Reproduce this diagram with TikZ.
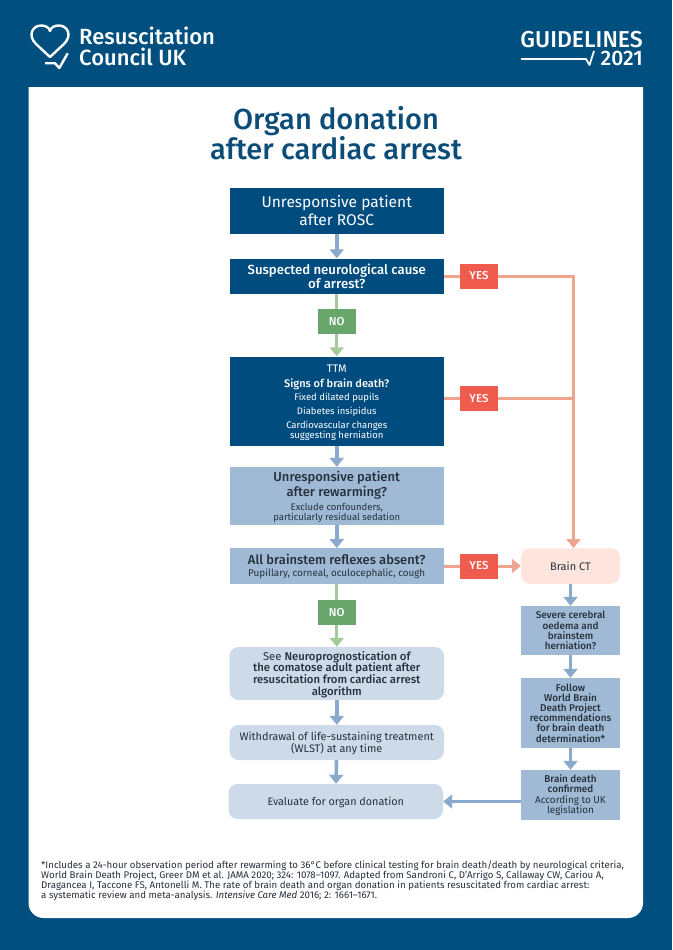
\documentclass[tikz,border=0pt]{standalone}
\usepackage{fontspec}
\setmainfont{Fira Sans}[BoldFont={Fira Sans Medium}]
\usetikzlibrary{arrows.meta}
\definecolor{navy}{HTML}{004F7F}
\definecolor{midblue}{HTML}{A0BAD5}
\definecolor{paleblue}{HTML}{CDDBE9}
\definecolor{arrowblue}{HTML}{8AA9CC}
\definecolor{darkfill}{HTML}{014C7E}
\definecolor{titleblue}{HTML}{0B4C78}
\definecolor{yesred}{HTML}{EF5B4C}
\definecolor{yesline}{HTML}{EFA48F}
\definecolor{ctpink}{HTML}{FDE4DC}
\definecolor{nogreen}{HTML}{69A66B}
\definecolor{noline}{HTML}{A6C99A}
\definecolor{bodytext}{HTML}{25303B}
\newcommand{\headline}[1]{{\fontsize{13}{14}\selectfont\bfseries #1}}
\newcommand{\ttmline}[1]{{\fontsize{11}{14}\selectfont #1}}
\tikzset{
 x=1pt, y=-1pt,
 box/.style={rectangle, minimum width=214.5pt, inner sep=0pt, align=center, font=\fontsize{9.5}{11.5}\selectfont},
 darkbox/.style={box, fill=darkfill, text=white},
 midbox/.style={box, fill=midblue, text=bodytext},
 palebox/.style={box, fill=paleblue, text=bodytext, rounded corners=9pt},
 sidebox/.style={box, fill=midblue, text=bodytext, minimum width=99pt, font=\fontsize{9.9}{10.2}\selectfont},
 yesbox/.style={rectangle, fill=yesred, text=white, minimum width=38pt, minimum height=25pt, inner sep=0pt, font=\fontsize{11.5}{12}\selectfont\bfseries},
 nobox/.style={rectangle, fill=nogreen, text=white, minimum width=38pt, minimum height=25pt, inner sep=0pt, font=\fontsize{11.5}{12}\selectfont\bfseries},
 tip/.style={-{Triangle[width=14pt,length=9pt]}},
 flow/.style={draw=arrowblue, line width=3.5pt, tip},
 yesflow/.style={draw=yesline, line width=3pt},
 noflow/.style={draw=noline, line width=3pt}
}
\begin{document}
\begin{tikzpicture}
\useasboundingbox (0,0) rectangle (672,950);
\fill[navy] (0,0) rectangle (672,950);
\fill[white] (28.5,87) -- (643,87) [rounded corners=15pt] -- (643,918) -- (28.5,918) [sharp corners] -- cycle;
% header
\draw[white, line width=2.4pt, line join=round, line cap=round] (50,57) -- (36,44) .. controls (27,35) and (33,25.5) .. (41,25.5) .. controls (45,25.5) and (49,27) .. (50,31) .. controls (51,27) and (55,25.5) .. (59,25.5) .. controls (67,25.5) and (73,35) .. (64,44) -- (50,57);
\draw[white, line width=2.4pt, line join=round] (45,63.3) -- (55,63.3) -- (59.3,68) -- (67.7,53.3);
\node[anchor=west, text=white, align=left, inner sep=0pt, font=\fontsize{22}{21}\selectfont\bfseries] (rcuk) at (79,46.5) {Resuscitation\\Council UK};
\node[anchor=east, text=white, align=right, inner sep=0pt, font=\fontsize{23}{18}\selectfont\bfseries] (guide) at (643,48.5) {GUIDELINES\\{\fontsize{21}{18}\selectfont 2021}};
\draw[white, line width=1.8pt, line join=round] (521,59) -- (586,59) -- (589.5,65) -- (594,51);
% title
\node[text=titleblue, align=center, inner sep=0pt, font=\fontsize{29}{28}\selectfont\bfseries] (title) at (336,133) {Organ donation\\after cardiac arrest};
% left column
\node[darkbox, minimum height=46pt, font=\fontsize{15.5}{18}\selectfont] (rosc) at (336.75,211) {Unresponsive patient\\after ROSC};
\node[darkbox, minimum height=35pt, font=\fontsize{13.2}{14}\selectfont\bfseries] (neuro) at (336.75,276) {Suspected neurological cause\\of arrest?};
\node[nobox] (no1) at (336.75,321.5) {NO};
\node[darkbox, minimum height=89pt, font=\fontsize{9.5}{10}\selectfont] (ttm) at (336.75,401) {\rule{0pt}{12pt}\ttmline{TTM}\\[5pt]\ttmline{\bfseries Signs of brain death?}\\[3pt]Fixed dilated pupils\\[4pt]Diabetes insipidus\\[4pt]Cardiovascular changes\\suggesting herniation};
\node[midbox, minimum height=58pt, font=\fontsize{9.5}{10}\selectfont] (rewarm) at (336.75,496) {\rule{0pt}{12pt}\headline{Unresponsive patient}\\\headline{after rewarming?}\\[4pt]Exclude confounders,\\particularly residual sedation};
\node[midbox, minimum height=35.5pt, font=\fontsize{9.9}{12}\selectfont] (reflex) at (336.75,566) {\headline{All brainstem reflexes absent?}\\Pupillary, corneal, oculocephalic, cough};
\node[nobox] (no2) at (336.75,612.5) {NO};
\node[palebox, minimum height=53pt, font=\fontsize{11.3}{11.6}\selectfont\bfseries] (neurop) at (336.75,673.5) {\rule{0pt}{11pt}{\mdseries See }Neuroprognostication of\\the comatose adult patient after\\resuscitation from cardiac arrest\\algorithm};
\node[palebox, minimum height=35pt, font=\fontsize{10.9}{12}\selectfont] (wlst) at (336.75,742.5) {\rule{0pt}{11pt}Withdrawal of life-sustaining treatment\\(WLST) at any time};
\node[palebox, minimum height=35pt, font=\fontsize{10.8}{12}\selectfont] (evaluate) at (335.75,801.5) {\rule{0pt}{11pt}Evaluate for organ donation};
% yes boxes
\node[yesbox] (yes1) at (479,276) {YES};
\node[yesbox] (yes2) at (479,398.5) {YES};
\node[yesbox] (yes3) at (479,566) {YES};
% right column
\node[palebox, fill=ctpink, minimum width=99pt, minimum height=35.5pt, font=\fontsize{11}{12}\selectfont] (ct) at (570.5,566) {Brain CT};
\node[sidebox, minimum height=49pt] (oedema) at (570.5,630.5) {\bfseries Severe cerebral\\\bfseries oedema and\\\bfseries brainstem\\\bfseries herniation?};
\node[sidebox, minimum height=70pt] (follow) at (570.5,713) {\bfseries Follow\\\bfseries World Brain\\\bfseries Death Project\\\bfseries recommendations\\\bfseries for brain death\\\bfseries determination*};
\node[sidebox, minimum height=50pt] (confirmed) at (570.5,795) {\bfseries Brain death\\\bfseries confirmed\\According to UK\\legislation};
\coordinate (j1) at (573.5,276);
\coordinate (j2) at (573.5,398.5);
% footnote
\node[anchor=north west, text=bodytext, align=left, inner sep=0pt, font=\fontsize{9.7}{10}\selectfont] (notes) at (41,860.5) {*Includes a 24-hour observation period after rewarming to 36°C before clinical testing for brain death/death by neurological criteria,\\World Brain Death Project, Greer DM et al. JAMA 2020; 324: 1078–1097. Adapted from Sandroni C, D’Arrigo S, Callaway CW, Cariou A,\\Dragancea I, Taccone FS, Antonelli M. The rate of brain death and organ donation in patients resuscitated from cardiac arrest:\\a systematic review and meta-analysis. \textit{Intensive Care Med} 2016; 2: 1661–1671.};
% connectors
\foreach \from/\to in {rosc/neuro,ttm/rewarm,rewarm/reflex,neurop/wlst,wlst/evaluate,ct/oedema,oedema/follow,follow/confirmed}
 \draw[flow] (\from) -- (\to);
\draw[flow] (confirmed.west |- evaluate) -- (evaluate);
\draw[noflow] (neuro) -- (no1);
\draw[noflow, tip] (no1) -- (ttm);
\draw[noflow] (reflex) -- (no2);
\draw[noflow, tip] (no2) -- (neurop);
\draw[yesflow] (neuro) -- (yes1);
\draw[yesflow] (ttm.east |- yes2) -- (yes2);
\draw[yesflow] (yes2) -- (j2);
\draw[yesflow, tip] (yes1) -- (j1) -- (ct.north -| j1);
\draw[yesflow] (reflex) -- (yes3);
\draw[yesflow, tip] (yes3) -- (ct);
\end{tikzpicture}
\end{document}
